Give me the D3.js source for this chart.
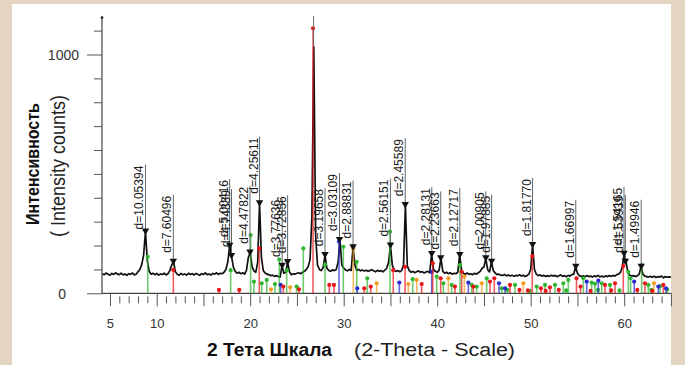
<!DOCTYPE html>
<html><head><meta charset="utf-8">
<script src="https://cdn.jsdelivr.net/npm/d3@7"></script>
<style>
html,body{margin:0;padding:0;background:#e3d5c1;}
svg{display:block;font-family:"Liberation Sans",Arial,sans-serif;}
</style></head><body>
<svg id="chart" width="685" height="365"></svg>
<script>
// ---------- data ----------
const traceStart = 4.2, traceStep = 0.2;
const traceCounts = [
  82, 78, 85, 80,
  76, 83, 79, 86, 80,
  78, 84, 77, 81, 75,
  82, 79, 85, 77, 80,
  90, 100, 120, 160, 258,
  135, 92, 80, 84, 78,
  83, 76, 81, 79, 84,
  77, 82, 95, 118, 132,
  90, 80, 76, 83, 78,
  81, 76, 84, 79, 82,
  77, 83, 80, 75, 82,
  79, 85, 78, 81, 76,
  83, 80, 86, 79, 84,
  82, 88, 100, 130, 198,
  156, 110, 92, 84, 88,
  82, 86, 80, 96, 150,
  170, 112, 94, 88, 130,
  376, 150, 95, 85, 80,
  78, 74, 76, 71, 74,
  70, 68, 115, 84, 88,
  130, 90, 78, 82, 80,
  84, 86, 82, 88, 92,
  100, 112, 140, 320, 1032,
  240, 118, 100, 95, 108,
  160, 105, 96, 92, 98,
  95, 100, 130, 223, 118,
  105, 98, 94, 100, 96,
  192, 118, 96, 100, 94,
  98, 93, 97, 92, 95,
  99, 94, 90, 96, 92,
  95, 90, 97, 105, 130,
  200, 118, 98, 92, 95,
  90, 95, 120, 369, 115,
  96, 88, 92, 86, 90,
  94, 88, 91, 85, 89,
  92, 86, 164, 100, 92,
  88, 96, 146, 92, 84,
  88, 82, 86, 80, 84,
  82, 88, 160, 98, 84,
  80, 85, 79, 82, 78,
  84, 80, 86, 92, 105,
  110, 146, 98, 90, 132,
  95, 85, 78, 80, 76,
  75, 79, 73, 77, 72,
  76, 71, 75, 73, 78,
  72, 76, 70, 74, 80,
  100, 202, 100, 80, 74,
  77, 72, 75, 70, 74,
  71, 76, 72, 75, 70,
  73, 77, 71, 74, 69,
  75, 72, 78, 80, 111,
  84, 74, 70, 73, 69,
  74, 70, 72, 68, 73,
  70, 75, 69, 72, 68,
  73, 70, 74, 71, 75,
  72, 78, 80, 88, 110,
  165, 132, 86, 76, 72,
  74, 70, 73, 80, 111,
  80, 72, 70, 68, 71,
  67, 72, 66, 70, 68,
  72, 65, 70, 67, 69,
  68
];

const peakThetas = [8.8, 11.78, 17.8, 18.0, 19.98, 21.0, 23.42, 24.0, 26.78, 28.0, 29.55, 31.0, 35.0, 36.58, 39.42, 40.38, 42.42, 45.2, 45.82, 50.2, 54.82, 59.98, 60.12, 61.82];
const peakCounts = [258, 132, 198, 156, 170, 376, 115, 130, 1032, 160, 223, 192, 200, 369, 164, 146, 160, 146, 132, 202, 111, 165, 132, 111];
const peakLabels = ["d=10.05394", "d=7.60496", "d=5.00416", "d=4.74339", "d=4.47822", "d=4.25611", "d=3.77636", "d=3.72856", "", "d=3.19658", "d=3.03109", "d=2.88831", "d=2.56151", "d=2.45589", "d=2.28131", "d=2.23663", "d=2.12717", "d=2.00905", "d=1.97885", "d=1.81770", "d=1.66997", "d=1.54165", "d=1.53939", "d=1.49946"];

const greenSticks = [[9.04,153],[17.91,97],[20.05,244],[20.4,49],[21.23,42],[21.77,56],[22.65,39],[23.11,142],[23.9,97],[24.97,28],[25.68,188],[28.0,120],[29.96,195],[31.39,132],[32.52,63],[34.95,258],[37.38,59],[39.95,70],[40.66,42],[41.55,35],[42.44,118],[43.69,35],[44.22,28],[45.29,63],[46.9,21],[47.5,14],[48.32,35],[49.9,10],[50.64,28],[51.53,35],[52.6,35],[53.49,42],[53.8,12],[54.02,56],[55.63,63],[56.52,45],[56.88,40],[57.2,14],[57.6,42],[58.48,35],[59.5,12],[60.44,90],[60.69,63],[61.87,118],[62.58,35],[62.9,14],[63.83,30],[64.6,16]];
const redSticks = [[11.78,98],[16.66,14],[18.83,14],[20.97,188],[23.54,28],[25.22,17],[26.72,1110],[28.46,35],[28.96,35],[32.2,21],[32.89,28],[35.3,97],[36.56,111],[38.34,39],[39.52,126],[40.37,63],[41.9,28],[42.62,90],[43.86,28],[45.65,49],[46.11,63],[47.79,35],[48.8,14],[49.7,12],[50.17,156],[51.1,21],[51.6,10],[52.06,25],[53.0,14],[54.9,63],[55.33,28],[56.4,10],[57.95,35],[58.6,12],[59.02,42],[59.9,114],[61.4,14],[62.22,42],[63.0,10],[64.18,35]];
const blueSticks = [[23.26,35],[29.5,216],[31.45,21],[35.95,45],[39.41,90],[43.33,45],[46.61,42],[47.26,21],[55.99,49],[57.23,53],[61.07,49],[63.65,28],[64.47,21]];
const orangeSticks = [[22.22,17],[24.27,25],[31.03,188],[33.53,42],[36.91,39],[37.81,56],[41.19,63],[42.9,70],[44.76,42],[49.21,42],[63.19,42]];

const yTickValues = [0,100,200,300,400,500,600,700,800,900,1000,1100];
const yTickLabels = ["0","","","","","","","","","","1000",""];
const xTickValues = d3.range(5, 66, 1);
const xTickLabels = [5,10,20,30,40,50,60];
const yAxisTop = 1155, xAxisEnd = 65;

// ---------- drawing ----------
const svg = d3.select("#chart");
svg.append("rect").attr("x",12).attr("y",4).attr("width",659).attr("height",361).attr("fill","#ffffff");

const x = d3.scaleLinear().domain([10, 60]).range([156.7, 624.2]);
const y = d3.scaleLinear().domain([0, 1000]).range([293.3, 54.5]);
const axisX = 102;

svg.append("defs").append("clipPath").attr("id","plotclip")
  .append("rect").attr("x",axisX).attr("y",16).attr("width",x(xAxisEnd)-axisX+4).attr("height",y(0)-16);

// y axis
const yAxis = d3.axisLeft(y).tickValues(yTickValues)
  .tickSize(0).tickFormat((d,i)=>yTickLabels[i]);
const gy = svg.append("g").attr("transform",`translate(${axisX},0)`).call(yAxis);
gy.select(".domain").remove();
gy.selectAll(".tick line").attr("x2",d => (d===0||d===1000)?-15:-8).attr("stroke","#555").attr("stroke-width",1);
gy.selectAll(".tick text").attr("x",d => d===0? -36 : -23).attr("dy","0.36em")
  .attr("font-size",14).attr("fill","#333").attr("font-family","Liberation Sans, Arial, sans-serif");
svg.append("line").attr("x1",axisX).attr("x2",axisX).attr("y1",y(0)).attr("y2",y(yAxisTop))
  .attr("stroke","#444").attr("stroke-width",1.2);
svg.append("circle").attr("cx",axisX).attr("cy",y(yAxisTop)).attr("r",1.3).attr("fill","#111");

// x axis
const xAxis = d3.axisBottom(x).tickValues(xTickValues).tickSize(0)
  .tickFormat(d => xTickLabels.includes(d) ? String(d) : "");
const gx = svg.append("g").attr("transform",`translate(0,${y(0)})`).call(xAxis);
gx.select(".domain").remove();
gx.selectAll(".tick line")
  .attr("y1", d => d%5===0 ? 0 : 3)
  .attr("y2", d => d%5===0 ? 13 : 10)
  .attr("stroke","#555").attr("stroke-width",1);
gx.selectAll(".tick text").attr("y",30).attr("dy","0.36em")
  .attr("font-size",13).attr("fill","#333").attr("font-family","Liberation Sans, Arial, sans-serif");
svg.append("line").attr("x1",axisX).attr("x2",x(xAxisEnd)).attr("y1",y(0)).attr("y2",y(0))
  .attr("stroke","#444").attr("stroke-width",1.2);

// trace
const traceData = traceCounts.map((c,i)=>[traceStart + i*traceStep, c]);
svg.append("path").datum(traceData)
  .attr("d", d3.line().x(d=>x(d[0])).y(d=>y(d[1])))
  .attr("fill","none").attr("stroke","#111").attr("stroke-width",1.7).attr("stroke-linejoin","round");

// reference sticks
const stickSets = [[greenSticks,"#2fb52f"],[orangeSticks,"#f39a22"],[blueSticks,"#2a2ad0"],[redSticks,"#e8161b"]];
stickSets.forEach(([data,col])=>{
  const g = svg.append("g");
  g.selectAll("line").data(data).join("line")
    .attr("x1",d=>x(d[0])).attr("x2",d=>x(d[0]))
    .attr("y1",y(0)).attr("y2",d=>y(d[1]))
    .attr("stroke",col).attr("stroke-width",1.6).attr("stroke-opacity",0.7);
  g.selectAll("circle").data(data).join("circle")
    .attr("cx",d=>x(d[0])).attr("cy",d=>y(d[1])).attr("r",2.1).attr("fill",col);
});

// peak labels
const peaks = peakThetas.map((t,i)=>({t, c:peakCounts[i], label:peakLabels[i]}));
const LINE_LEN = 67;
const pg = svg.append("g").attr("clip-path","url(#plotclip)");
pg.selectAll("line").data(peaks).join("line")
  .attr("x1",d=>x(d.t)).attr("x2",d=>x(d.t))
  .attr("y1",d=>y(d.c)).attr("y2",d=>y(d.c)-LINE_LEN)
  .attr("stroke","#666").attr("stroke-width",1);
svg.append("g").selectAll("path").data(peaks.filter(d=>d.label)).join("path")
  .attr("d", d3.symbol().type(d3.symbolTriangle).size(24))
  .attr("transform", d=>`translate(${x(d.t)},${y(d.c)-1}) rotate(180)`)
  .attr("fill","#111");
svg.append("g").selectAll("text").data(peaks.filter(d=>d.label)).join("text")
  .attr("transform", d=>`translate(${x(d.t)-2},${y(d.c)-LINE_LEN+1}) scale(1.12,1) rotate(-90)`)
  .attr("text-anchor","end")
  .attr("font-size",12).attr("fill","#1a1a1a")
  .text(d=>d.label);

// axis titles
svg.append("text").attr("x",207).attr("y",356).attr("font-size",18).attr("font-weight","bold")
  .attr("textLength",125).attr("lengthAdjust","spacingAndGlyphs")
  .attr("fill","#111").text("2 Тета Шкала");
svg.append("text").attr("x",354).attr("y",356).attr("font-size",18).attr("fill","#222")
  .attr("textLength",161).attr("lengthAdjust","spacingAndGlyphs")
  .text("(2-Theta - Scale)");
svg.append("text").attr("transform","translate(38.5,164) scale(1.1,1) rotate(-90)").attr("text-anchor","middle")
  .attr("font-size",16).attr("font-weight","bold").attr("fill","#111").text("Интенсивность");
svg.append("text").attr("transform","translate(65,166) scale(1.1,1) rotate(-90)").attr("text-anchor","middle")
  .attr("font-size",18).attr("fill","#222").text("( Intensity counts)");
</script>
</body></html>
